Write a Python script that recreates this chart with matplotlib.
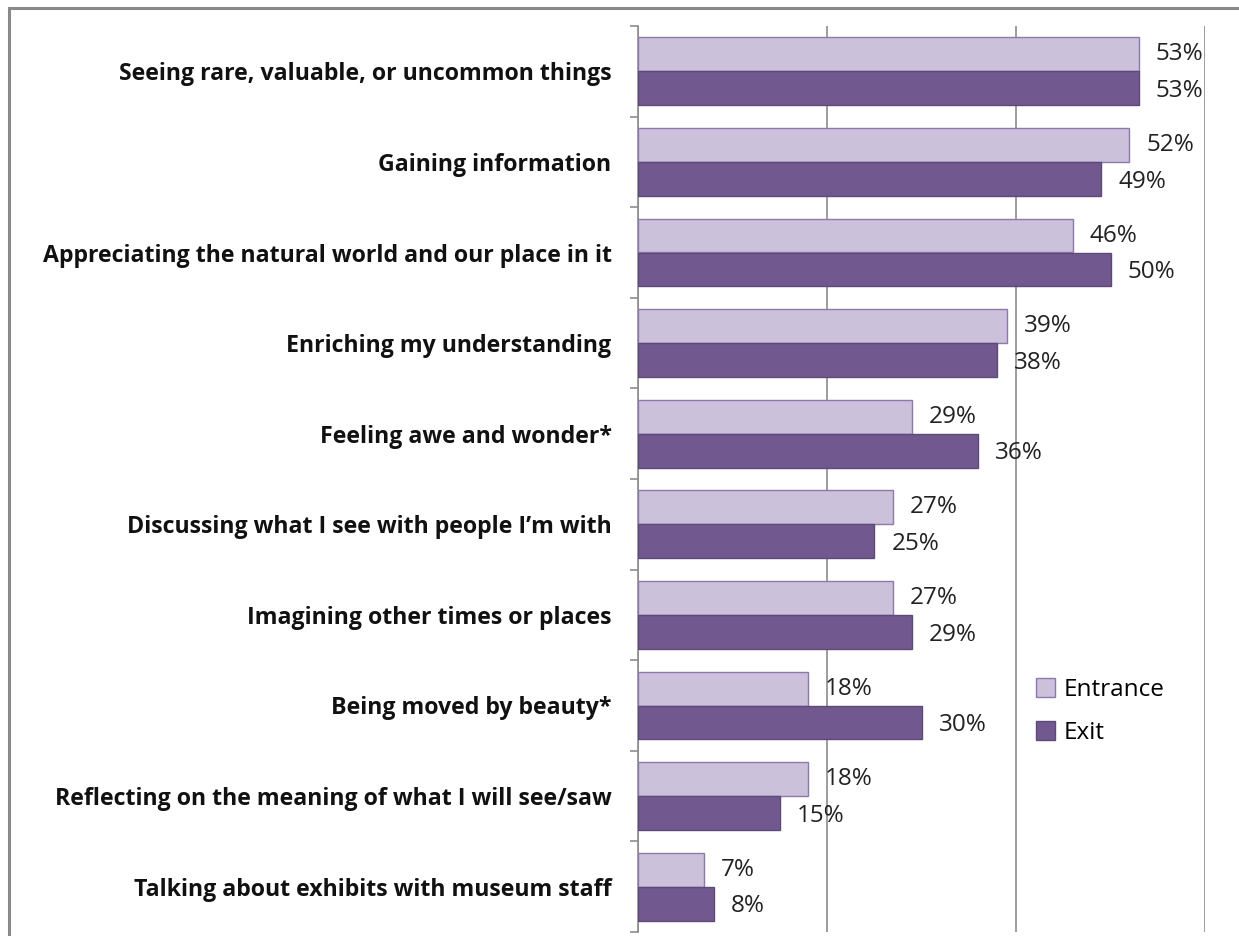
import matplotlib
matplotlib.use("Agg")
import matplotlib.pyplot as plt
import numpy as np
from matplotlib.patches import Rectangle

categories = [
    "Seeing rare, valuable, or uncommon things",
    "Gaining information",
    "Appreciating the natural world and our place in it",
    "Enriching my understanding",
    "Feeling awe and wonder*",
    "Discussing what I see with people I\u2019m with",
    "Imagining other times or places",
    "Being moved by beauty*",
    "Reflecting on the meaning of what I will see/saw",
    "Talking about exhibits with museum staff",
]
entrance = [53, 52, 46, 39, 29, 27, 27, 18, 18, 7]
exit_ = [53, 49, 50, 38, 36, 25, 29, 30, 15, 8]
x_ticks = [0, 20, 40, 60]

ENTRANCE_FILL = "#CCC1DA"
ENTRANCE_EDGE = "#8D79AC"
EXIT_FILL = "#71588F"
EXIT_EDGE = "#5E4A7A"
GRID = "#8C8C8C"

plt.rcParams["font.family"] = ["Open Sans", "DejaVu Sans"]

W, H = 1239, 936
fig = plt.figure(figsize=(W / 100, H / 100), dpi=100)
fig.patches.append(Rectangle((9 / W, -0.1), 1.2, (H - 8) / H + 0.1,
                             transform=fig.transFigure, fill=False,
                             edgecolor="#8A8A8A", linewidth=2.2))

# axes box in pixels: x 638..1205, y 26..932
ax = fig.add_axes([638 / W, 1 - 932 / H, (1205 - 638) / W, (932 - 26) / H])

y = np.arange(len(categories))
h = 0.375
ax.barh(y - h / 2, entrance, height=h, color=ENTRANCE_FILL,
        edgecolor=ENTRANCE_EDGE, linewidth=1, label="Entrance", zorder=3)
ax.barh(y + h / 2, exit_, height=h, color=EXIT_FILL,
        edgecolor=EXIT_EDGE, linewidth=1, label="Exit", zorder=3)

for i, v in enumerate(entrance):
    ax.text(v + 1.8, i - h / 2, f"{v}%", va="center", ha="left",
            fontsize=17.5, color="#222222", zorder=4)
for i, v in enumerate(exit_):
    ax.text(v + 1.8, i + h / 2 + 0.03, f"{v}%", va="center", ha="left",
            fontsize=17.5, color="#222222", zorder=4)

ax.set_xlim(0, 60)
ax.set_ylim(len(categories) - 0.5, -0.5)
ax.set_xticks(x_ticks)
ax.tick_params(axis="x", length=0, labelbottom=False)
ax.xaxis.grid(True, color=GRID, linewidth=1.2)
ax.set_axisbelow(True)

ax.set_yticks(y)
ax.set_yticklabels(categories, fontsize=16.7, fontweight="bold", color="#111111")
ax.tick_params(axis="y", which="major", length=0, pad=19)
ax.set_yticks(np.arange(-0.5, len(categories)), minor=True)
ax.tick_params(axis="y", which="minor", length=6, color=GRID, width=1.2)

for side in ("top", "right", "bottom"):
    ax.spines[side].set_visible(False)
ax.spines["left"].set_color(GRID)
ax.spines["left"].set_linewidth(1.2)

ax.legend(loc="upper left", bbox_to_anchor=(1036 / W, 1 - 678 / H),
          bbox_transform=fig.transFigure, frameon=False, fontsize=17.5,
          handlelength=0.8, handleheight=0.8, handletextpad=0.35,
          labelspacing=0.78, borderaxespad=0, borderpad=0)

fig.savefig("out.png", dpi=100)
